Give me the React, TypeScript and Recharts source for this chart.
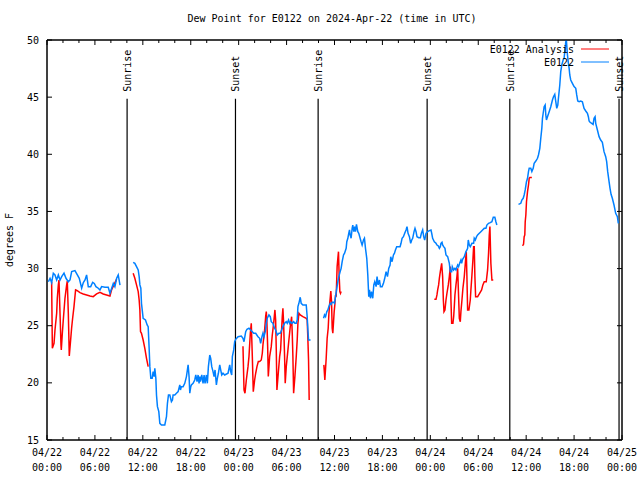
import { LineChart, Line, XAxis, YAxis, ReferenceLine, ReferenceArea, Legend } from 'recharts'

const FONT = '"DejaVu Sans Mono", monospace'
const RED = '#ff0000'
const BLUE = '#0080ff'

// station observations (E0122), hours since 04/22 00:00 UTC, null = gap
const obsHours = [
  0.17, 0.38, 0.58, 0.79, 1.0, 1.21, 1.42, 1.63, 1.84, 2.13, 2.38, 2.67, 2.88, 3.09, 3.5, 3.8, 4.04, 4.34, 4.55,
  4.76, 4.96, 5.17, 5.47, 5.72, 5.92, 6.13, 6.42, 6.63, 6.84, 7.26, 7.67, 7.88, 8.1, 8.3, 8.5, 8.72, 8.92, 9.14,
  9.9,
  10.79, 11.0, 11.21, 11.42, 11.54, 11.63, 11.75, 11.83, 12.04, 12.33, 12.54, 12.67, 12.79, 12.88, 13.0, 13.17,
  13.29, 13.42, 13.5, 13.63, 13.71, 13.83, 14.0, 14.13, 14.33, 14.75, 14.96, 15.08, 15.21, 15.38, 15.58, 15.71,
  15.79, 16.0, 16.21, 16.42, 16.63, 16.71, 16.83, 17.04, 17.25, 17.46, 17.67, 17.79, 17.88, 18.0, 18.08, 18.29,
  18.5, 18.63, 18.79, 18.92, 19.04, 19.13, 19.21, 19.38, 19.54, 19.67, 19.79, 19.96, 20.08, 20.21, 20.38, 20.5,
  20.63, 20.79, 20.92, 21.04, 21.21, 21.33, 21.46, 21.63, 21.75, 21.88, 22.04, 22.25, 22.67, 22.88, 23.0, 23.13,
  23.21, 23.38, 23.5, 23.63, 23.92, 24.33, 24.54, 24.67, 24.88, 25.04, 25.29, 25.5, 25.71, 25.88, 26.13, 26.42,
  26.63, 26.75, 26.92, 27.04, 27.17, 27.33, 27.46, 27.58, 27.79, 27.96, 28.08, 28.29, 28.5, 28.63, 28.83, 29.04,
  29.21, 29.38, 29.54, 29.75, 29.96, 30.08, 30.25, 30.38, 30.5, 30.67, 30.88, 31.04, 31.21, 31.33, 31.42, 31.54,
  31.71, 31.83, 32.04, 32.46, 32.58, 32.67, 32.75, 33.0,
  33.8,
  34.63, 34.75, 34.88, 35.04, 35.17, 35.29, 35.46, 35.58, 35.71, 35.88, 36.0, 36.13, 36.29, 36.42, 36.54, 36.71,
  36.83, 36.96, 37.13, 37.25, 37.46, 37.54, 37.67, 37.79, 37.88, 37.96, 38.08, 38.21, 38.29, 38.42, 38.54, 38.63,
  38.75, 38.92, 39.04, 39.21, 39.33, 39.46, 39.63, 39.75, 39.88, 40.04, 40.17, 40.29, 40.38, 40.5, 40.63, 40.79,
  40.92, 41.04, 41.21, 41.33, 41.46, 41.63, 41.75, 41.96, 42.13, 42.29, 42.46, 42.63, 42.79, 42.96, 43.04, 43.21,
  43.38, 43.5, 43.63, 43.79, 44.21, 44.33, 44.46, 44.63, 44.79, 44.96, 45.08, 45.21, 45.38, 45.54, 45.67, 45.79,
  45.96, 46.08, 46.21, 46.33, 46.54, 46.75, 46.88, 47.04, 47.17, 47.29, 47.46, 47.67, 47.88, 48.08, 48.17, 48.29,
  48.5, 48.71, 48.83, 49.0, 49.13, 49.25, 49.33, 49.46, 49.54, 49.67, 49.83, 49.96, 50.17, 50.38, 50.5, 50.67,
  50.75, 50.92, 51.08, 51.21, 51.42, 51.54, 51.67, 51.83, 51.92, 52.04, 52.25, 52.46, 52.58, 52.67, 52.75, 52.88,
  53.0, 53.21, 53.42, 53.5, 53.63, 53.79, 53.92, 54.13, 54.33, 54.54, 54.75, 54.96, 55.08, 55.29, 55.5, 55.71,
  55.88, 56.08, 56.21, 56.33,
  57.5,
  59.04, 59.33, 59.46, 59.63, 59.75, 59.88, 60.04, 60.17, 60.29, 60.38, 60.58, 60.71, 60.88, 61.0, 61.21, 61.42,
  61.54, 61.71, 61.83, 61.96, 62.04, 62.13, 62.25, 62.38, 62.46, 62.54, 62.67, 62.88, 63.08, 63.29, 63.42, 63.58,
  63.71, 63.83, 63.96, 64.04, 64.21, 64.33, 64.46, 64.63, 64.75, 64.88, 64.96, 65.04, 65.17, 65.29, 65.38, 65.46,
  65.58, 65.79, 66.0, 66.21, 66.33, 66.46, 66.63, 66.83, 67.04, 67.25, 67.46, 67.67, 67.79, 67.88, 68.0, 68.21,
  68.38, 68.5, 68.63, 68.71, 68.92, 69.13, 69.33, 69.54, 69.75, 69.96, 70.08, 70.21, 70.38, 70.5, 70.63, 70.79,
  71.0, 71.21, 71.42, 71.54,
]
const obsValues = [
  28.85, 29.15, 28.77, 29.59, 29.44, 29.0, 29.44, 29.0, 29.3, 29.6, 29.15, 28.85, 29.0, 29.73, 29.82, 29.44, 29.15,
  28.28, 28.77, 29.0, 29.44, 28.42, 28.42, 28.8, 28.7, 28.42, 28.28, 28.13, 28.42, 28.36, 28.36, 27.84, 28.28, 28.7,
  28.42, 29.15, 29.44, 28.56,
  null,
  30.55, 30.46, 30.17, 29.88, 29.3, 28.57, 28.28, 26.96, 25.65, 25.5, 25.07, 24.92, 23.02, 21.42, 20.4, 20.4, 20.98,
  20.55, 21.27, 20.4, 18.94, 17.92, 17.48, 16.46, 16.32, 16.32, 17.04, 18.21, 18.94, 18.94, 18.36, 18.5, 18.94,
  18.94, 19.09, 19.23, 19.82, 19.38, 19.67, 19.67, 19.96, 20.55, 21.57, 20.55, 19.09, 19.67, 19.82, 19.96, 20.25,
  20.69, 20.1, 20.69, 19.96, 20.55, 20.1, 20.69, 19.96, 20.69, 19.96, 20.69, 19.96, 21.42, 22.44, 22.15, 21.42,
  20.98, 20.55, 21.13, 19.82, 20.4, 20.84, 21.57, 21.13, 20.69, 20.84, 20.69, 20.84, 21.57, 20.98, 20.69, 22.3,
  22.88, 23.6, 23.81, 24.04, 24.1, 23.9, 23.6, 24.48, 24.69, 24.78, 24.63, 24.48, 24.34, 24.34, 24.04, 23.9, 23.46,
  24.04, 24.34, 24.04, 24.48, 25.21, 25.65, 25.94, 25.79, 25.35, 25.21, 24.78, 24.63, 24.19, 24.34, 24.34, 24.63,
  24.92, 25.21, 25.35, 25.21, 25.5, 25.21, 25.35, 25.21, 25.35, 25.21, 25.21, 25.5, 26.67, 26.96, 27.49, 26.96,
  26.81, 26.81, 25.79, 24.63, 23.75, 23.75,
  null,
  25.65, 25.94, 25.79, 26.23, 26.38, 26.67, 26.96, 26.87, 27.05, 27.05, 26.96, 27.54, 28.28, 28.85, 29.3, 29.73,
  30.02, 30.6, 31.19, 31.33, 31.77, 32.35, 32.65, 33.09, 33.38, 32.94, 32.65, 33.52, 33.81, 33.23, 33.67, 33.23,
  33.87, 33.23, 33.09, 32.65, 32.35, 32.06, 32.5, 32.65, 31.77, 30.9, 29.44, 27.54, 28.13, 27.4, 27.99, 27.4, 28.57,
  28.85, 28.42, 29.3, 28.57, 29.0, 28.42, 28.42, 28.71, 29.15, 29.73, 29.3, 30.02, 30.31, 31.04, 30.6, 31.19, 31.33,
  31.63, 31.92, 31.92, 32.21, 32.65, 32.79, 33.09, 33.38, 33.67, 33.09, 32.79, 32.21, 32.5, 32.65, 33.23, 33.52,
  33.23, 32.79, 32.7, 32.7, 33.09, 33.38, 32.79, 32.5, 33.09, 33.23, 33.32, 33.38, 33.09, 32.65, 32.35, 32.21, 32.06,
  31.98, 31.77, 31.92, 32.21, 32.3, 32.06, 31.92, 31.77, 31.19, 31.04, 30.46, 29.73, 29.73, 30.17, 29.88, 30.02,
  29.88, 30.31, 30.17, 30.46, 30.75, 30.46, 30.81, 31.04, 31.48, 31.63, 31.77, 32.5, 32.06, 31.92, 32.21, 32.21,
  32.65, 32.5, 32.79, 32.94, 33.09, 33.23, 33.38, 33.52, 33.52, 33.81, 33.96, 34.02, 34.1, 34.48, 34.48, 34.1, 33.81,
  null,
  35.62, 35.71, 36.0, 36.15, 36.44, 36.88, 37.6, 37.9, 38.48, 38.77, 38.77, 38.48, 38.77, 39.21, 39.41, 39.65, 39.94,
  40.52, 41.4, 42.27, 43.15, 43.59, 44.16, 44.31, 43.44, 43.0, 43.29, 43.73, 44.16, 44.75, 45.04, 45.25, 44.6, 44.02,
  44.31, 44.9, 46.06, 47.23, 47.81, 48.25, 48.4, 49.27, 49.85, 49.95, 48.69, 47.96, 47.52, 46.94, 46.5, 46.21, 45.92,
  45.77, 45.19, 44.66, 44.6, 44.66, 44.6, 44.02, 43.79, 43.59, 43.29, 42.91, 42.8, 42.71, 42.62, 43.15, 43.29, 42.71,
  42.13, 41.54, 41.25, 41.05, 40.23, 39.79, 39.35, 38.48, 37.6, 37.02, 36.5, 36.15, 35.56, 34.83, 34.54, 33.96,
]

// analysis series (E0122 Analysis)
const anaHours = [
  0.58, 0.67, 0.88, 1.0, 1.21, 1.29, 1.42, 1.5, 1.63, 1.75, 1.79, 1.92, 2.04, 2.25, 2.46, 2.54, 2.67, 2.79, 2.96,
  3.08, 3.21, 3.38, 3.58, 3.79, 4.13, 4.54, 5.38, 5.79, 6.21, 6.63, 7.04, 7.46, 7.88, 8.08, 8.38, 8.71,
  9.8,
  10.79, 11.0, 11.21, 11.42, 11.54, 11.63, 11.71, 11.83, 12.04, 12.25, 12.46, 12.67,
  18.0,
  24.54, 24.67, 24.79, 24.96, 25.17, 25.29, 25.46, 25.58, 25.71, 25.83, 26.0, 26.13, 26.29, 26.46, 26.63, 26.83,
  26.96, 27.04, 27.25, 27.38, 27.46, 27.54, 27.63, 27.71, 27.88, 28.08, 28.21, 28.38, 28.54, 28.63, 28.71, 28.79,
  28.96, 29.13, 29.25, 29.33, 29.46, 29.54, 29.63, 29.75, 29.83, 29.96, 30.17, 30.29, 30.46, 30.63, 30.71, 30.79,
  30.88, 31.04, 31.21, 31.33, 31.42, 31.54, 31.71, 32.04, 32.46, 32.58, 32.67, 32.75, 32.83,
  33.5,
  34.67, 34.79, 34.88, 34.96, 35.08, 35.21, 35.29, 35.38, 35.46, 35.54, 35.63, 35.71, 35.79, 35.88, 35.96, 36.04,
  36.13, 36.21, 36.33, 36.42, 36.5, 36.58, 36.67, 36.75, 36.83,
  42.0,
  48.5, 48.71, 48.83, 48.92, 49.04, 49.13, 49.25, 49.42, 49.54, 49.63, 49.71, 49.83, 49.96, 50.08, 50.25, 50.38,
  50.5, 50.58, 50.67, 50.83, 50.92, 51.0, 51.08, 51.21, 51.33, 51.42, 51.54, 51.63, 51.75, 51.83, 51.96, 52.08,
  52.25, 52.38, 52.5, 52.58, 52.67, 52.83, 53.0, 53.08, 53.21, 53.33, 53.42, 53.5, 53.58, 53.67, 53.92, 54.17,
  54.42, 54.58, 54.75, 55.0, 55.17, 55.29, 55.38, 55.46, 55.58, 55.71, 55.88,
  57.5,
  59.54, 59.67, 59.75, 59.83, 59.88, 59.96, 60.04, 60.17, 60.29, 60.38, 60.46, 60.71,
]
const anaValues = [
  28.85, 23.02, 23.46, 24.63, 26.09, 27.4, 28.57, 29.0, 26.09, 23.31, 22.88, 24.34, 25.5, 27.4, 28.57, 28.91, 26.09,
  22.35, 23.75, 24.78, 25.65, 26.67, 28.13, 28.07, 27.9, 27.78, 27.6, 27.54, 27.78, 27.92, 27.78, 27.69, 27.6, 28.13,
  28.57, 29.06,
  null,
  29.59, 29.15, 28.57, 27.99, 27.25, 26.38, 24.48, 24.34, 23.75, 23.02, 22.15, 21.42,
  null,
  23.2, 19.38, 19.09, 20.25, 21.42, 22.3, 24.34, 25.21, 22.3, 19.23, 20.25, 20.84, 21.42, 21.86, 21.86, 22.0, 22.59,
  23.31, 24.63, 25.79, 26.23, 25.21, 23.17, 20.55, 22.3, 23.17, 24.19, 25.21, 26.38, 25.5, 22.88, 19.38, 20.84, 22.3,
  22.88, 24.04, 25.79, 26.52, 25.21, 22.3, 19.96, 21.42, 22.88, 23.75, 24.92, 25.79, 24.34, 22.3, 19.09, 20.55, 22.3,
  23.75, 25.21, 26.09, 25.94, 25.79, 25.65, 25.5, 23.75, 22.0, 18.5,
  null,
  21.57, 20.25, 21.27, 22.15, 23.9, 24.78, 25.94, 26.81, 27.4, 28.04, 27.1, 24.78, 24.34, 25.35, 26.23, 26.81, 27.69,
  27.54, 30.17, 30.9, 31.48, 29.44, 27.99, 27.84, 27.99,
  null,
  27.31, 27.31, 27.69, 28.13, 28.57, 29.15, 29.73, 30.46, 29.3, 27.25, 26.23, 26.38, 27.25, 27.84, 28.57, 29.3, 30.17,
  27.25, 25.21, 25.21, 25.79, 26.67, 27.69, 28.57, 29.3, 30.02, 27.54, 25.65, 25.35, 26.23, 27.25, 28.28, 29.3, 30.46,
  31.48, 29.3, 26.38, 26.38, 27.25, 28.13, 29.44, 30.75, 31.92, 31.92, 29.3, 27.54, 27.54, 27.84, 28.13, 28.57, 28.85,
  28.85, 29.88, 31.33, 32.94, 33.67, 30.46, 29.0, 29.0,
  null,
  32.0, 32.12, 32.79, 32.94, 34.1, 34.69, 35.85, 36.73, 37.31, 37.9, 37.96, 37.96,
]

const sunHours = [10.03, 23.6, 33.95, 47.6, 57.95, 71.63]
const sunLabels = ['Sunrise', 'Sunset', 'Sunrise', 'Sunset', 'Sunrise', 'Sunset']

const xMinorHours = [
  0, 2, 4, 6, 8, 10, 12, 14, 16, 18, 20, 22, 24, 26, 28, 30, 32, 34, 36, 38, 40, 42, 44, 46, 48, 50, 52, 54, 56,
  58, 60, 62, 64, 66, 68, 70, 72,
]
const xMajorHours = [0, 6, 12, 18, 24, 30, 36, 42, 48, 54, 60, 66, 72]
const xMajorDates = ['04/22', '04/22', '04/22', '04/22', '04/23', '04/23', '04/23', '04/23', '04/24', '04/24', '04/24', '04/24', '04/25']
const xMajorTimes = ['00:00', '06:00', '12:00', '18:00', '00:00', '06:00', '12:00', '18:00', '00:00', '06:00', '12:00', '18:00', '00:00']
const yTicks = [15, 20, 25, 30, 35, 40, 45, 50]

const title = 'Dew Point for E0122 on 2024-Apr-22 (time in UTC)'
const seriesNames = ['E0122 Analysis', 'E0122']
const seriesColors = [RED, BLUE]

const obsData = obsHours.map((h, i) => ({ h, v: obsValues[i] }))
const anaData = anaHours.map((h, i) => ({ h, v: anaValues[i] }))

const txt = { fontSize: 10, fontFamily: FONT, fill: '#000' }

const BottomTick = (props: any) => {
  const { x, y, payload } = props
  const i = xMajorHours.indexOf(payload.value)
  const major = i >= 0
  return (
    <g>
      <line x1={x} x2={x} y1={y} y2={y - (major ? 5 : 3)} stroke="#000" />
      {major && (
        <text x={x} y={y + 16} textAnchor="middle" {...txt}>
          <tspan x={x}>{xMajorDates[i]}</tspan>
          <tspan x={x} dy={15}>{xMajorTimes[i]}</tspan>
        </text>
      )}
    </g>
  )
}

const TopTick = (props: any) => {
  const { x, y, payload } = props
  const major = xMajorHours.includes(payload.value)
  return <line x1={x} x2={x} y1={y} y2={y + (major ? 5 : 3)} stroke="#000" />
}

const LeftTick = (props: any) => {
  const { x, y, payload } = props
  return (
    <g>
      <line x1={x} x2={x + 5} y1={y} y2={y} stroke="#000" />
      <text x={x - 8} y={y + 3.5} textAnchor="end" {...txt}>{payload.value}</text>
    </g>
  )
}

const RightTick = (props: any) => {
  const { x, y } = props
  return <line x1={x} x2={x - 5} y1={y} y2={y} stroke="#000" />
}

const sunLabel = (text: string) => (props: any) => {
  const vb = props.viewBox ?? props
  const x = vb.x + 4
  const y = vb.y - 7
  return (
    <text x={x} y={y} transform={`rotate(-90 ${x} ${y})`} {...txt}>{text}</text>
  )
}

const yLabel = (props: any) => {
  const vb = props.viewBox ?? props
  const x = 13
  const y = vb.y + vb.height / 2
  return (
    <text x={x} y={y} textAnchor="middle" transform={`rotate(-90 ${x} ${y})`} {...txt}>degrees F</text>
  )
}

const renderLegend = () => (
  <svg width={140} height={28} style={{ display: 'block' }}>
    {seriesNames.map((name, i) => (
      <g key={name}>
        <text x={94} y={10.5 + i * 13} textAnchor="end" {...txt}>{name}</text>
        <line x1={101} x2={129} y1={7 + i * 13} y2={7 + i * 13} stroke={seriesColors[i]} strokeWidth={1} />
      </g>
    ))}
  </svg>
)

export default function App() {
  return (
    <div style={{ position: 'absolute', left: 0, top: 0, width: 640, height: 480, background: '#fff' }}>
      <div
        style={{
          position: 'absolute',
          left: 0,
          top: 13,
          width: 664,
          textAlign: 'center',
          fontFamily: FONT,
          fontSize: 10,
          lineHeight: '12px',
          whiteSpace: 'pre',
        }}
      >
        {title}
      </div>
      <LineChart width={640} height={480} margin={{ top: 39, right: 0, bottom: 0, left: 0 }}>
        <XAxis
          xAxisId="b"
          dataKey="h"
          type="number"
          domain={[0, 72]}
          allowDataOverflow
          ticks={xMinorHours}
          interval={0}
          height={40}
          tickSize={0}
          tickMargin={0}
          tick={<BottomTick />}
          axisLine={{ stroke: '#000' }}
        />
        <XAxis
          xAxisId="t"
          orientation="top"
          dataKey="h"
          type="number"
          domain={[0, 72]}
          allowDataOverflow
          ticks={xMinorHours}
          interval={0}
          height={1}
          tickSize={0}
          tickMargin={0}
          tick={<TopTick />}
          axisLine={{ stroke: '#000' }}
        />
        <YAxis
          yAxisId="l"
          type="number"
          domain={[15, 50]}
          allowDataOverflow
          ticks={yTicks}
          interval={0}
          width={47}
          tickSize={0}
          tickMargin={0}
          tick={<LeftTick />}
          axisLine={{ stroke: '#000' }}
          label={yLabel}
        />
        <YAxis
          yAxisId="r"
          orientation="right"
          type="number"
          domain={[15, 50]}
          allowDataOverflow
          ticks={yTicks}
          interval={0}
          width={18}
          tickSize={0}
          tickMargin={0}
          tick={<RightTick />}
          axisLine={{ stroke: '#000' }}
        />
        <ReferenceArea
          xAxisId="b"
          yAxisId="l"
          x1={0}
          x2={72}
          y1={15}
          y2={50}
          fill="none"
          fillOpacity={0}
          stroke="#000"
          strokeWidth={1}
          ifOverflow="visible"
        />
        {sunHours.map((h, i) => (
          <ReferenceLine
            key={i}
            xAxisId="b"
            yAxisId="l"
            segment={[{ x: h, y: 44.85 }, { x: h, y: 15 }]}
            stroke="#000"
            strokeWidth={1.2}
            ifOverflow="visible"
            label={sunLabel(sunLabels[i])}
          />
        ))}
        <Line
          data={anaData}
          xAxisId="b"
          yAxisId="l"
          dataKey="v"
          name={seriesNames[0]}
          stroke={RED}
          strokeWidth={1.5}
          dot={false}
          activeDot={false}
          isAnimationActive={false}
          type="linear"
        />
        <Line
          data={obsData}
          xAxisId="b"
          yAxisId="l"
          dataKey="v"
          name={seriesNames[1]}
          stroke={BLUE}
          strokeWidth={1.5}
          dot={false}
          activeDot={false}
          isAnimationActive={false}
          type="linear"
        />
        <Legend
          layout="horizontal"
          verticalAlign="middle"
          align="center"
          content={renderLegend}
          wrapperStyle={{ top: 42, left: 480, width: 140, height: 28 }}
        />
      </LineChart>
    </div>
  )
}
